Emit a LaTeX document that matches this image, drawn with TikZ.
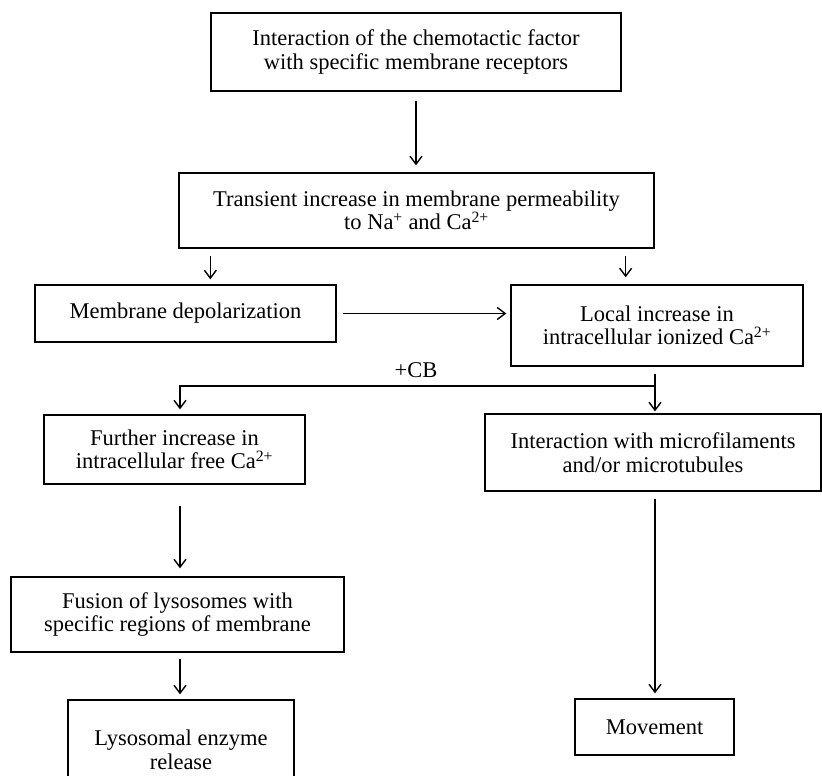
\documentclass[tikz,border=0pt]{standalone}
\usepackage{fontspec}
\setmainfont{Liberation Serif}
\usetikzlibrary{arrows.meta}
\newcommand{\caion}{Ca\textsuperscript{2+}}
\begin{document}
\begin{tikzpicture}[x=1pt,y=-1pt,
  box/.style={draw, line width=1.3pt, inner sep=0pt, align=center,
              font=\fontsize{22.5}{23.5}\selectfont},
  lbl/.style={inner sep=0pt, font=\fontsize{22.5}{23.5}\selectfont},
  arr/.style={line width=1.2pt, -{Straight Barb[length=8pt,width=12pt,line width=1.4pt]}}]
\clip (0,0) rectangle (822,776);
\fill[white] (0,0) rectangle (822,776);
% boxes
\node[box, minimum width=410pt, minimum height=78pt] (b1) at (416,52)
  {Interaction of the chemotactic factor\\with specific membrane receptors};
\node[box, minimum width=475pt, minimum height=75pt] (b2) at (416.5,210.5)
  {Transient increase in membrane permeability\\to Na\textsuperscript{+} and \caion};
\node[box, minimum width=301pt, minimum height=57pt] (b3) at (185.5,313.5)
  {Membrane depolarization};
\node[box, minimum width=292pt, minimum height=81pt] (b4) at (657,325.5)
  {Local increase in\\intracellular ionized \caion};
\node[box, minimum width=261pt, minimum height=69pt] (b5) at (174.5,449.5)
  {Further increase in\\intracellular free \caion};
\node[box, minimum width=336pt, minimum height=77pt] (b6) at (653,452.5)
  {Interaction with microfilaments\\and/or microtubules};
\node[box, minimum width=333pt, minimum height=75pt] (b7) at (177.5,614.5)
  {Fusion of lysosomes with\\specific regions of membrane};
\node[box, minimum width=226pt, minimum height=100pt] (b8) at (181,750)
  {Lysosomal enzyme\\release};
\node[box, minimum width=159pt, minimum height=56pt] (b9) at (654.5,727)
  {Movement};
\node[lbl] (cb) at (416,370) {+CB};
% helper coordinates for arrow columns
\coordinate (lx) at (180,0);
\coordinate (rx) at (655,0);
\coordinate (br) at (655,386);
% connectors
\draw[arr, shorten <=9pt, shorten >=7pt] (b1.south -| b1.center) -- (b2.north -| b1.center);
\draw[arr, shorten <=7pt, shorten >=5pt] ([xshift=32pt]b2.south west) -- ([xshift=32pt]b2.south west |- b3.north);
\draw[arr, shorten <=7pt, shorten >=7pt] ([xshift=-29pt]b2.south east) -- ([xshift=-29pt]b2.south east |- b4.north);
\draw[arr, shorten <=6pt, shorten >=4pt] (b3.east) -- (b3.east -| b4.west);
\draw[arr, shorten <=7pt, shorten >=2pt] (b4.south -| rx) -- (b6.north -| rx);
\draw[arr, shorten >=5pt] (br) -| (b5.north -| lx);
\draw[arr, shorten <=21pt, shorten >=8pt] (b5.south -| lx) -- (b7.north -| lx);
\draw[arr, shorten <=6pt, shorten >=5pt] (b7.south -| lx) -- (b8.north -| lx);
\draw[arr, shorten <=7pt, shorten >=5pt] (b6.south -| rx) -- (b9.north -| rx);
\end{tikzpicture}
\end{document}
